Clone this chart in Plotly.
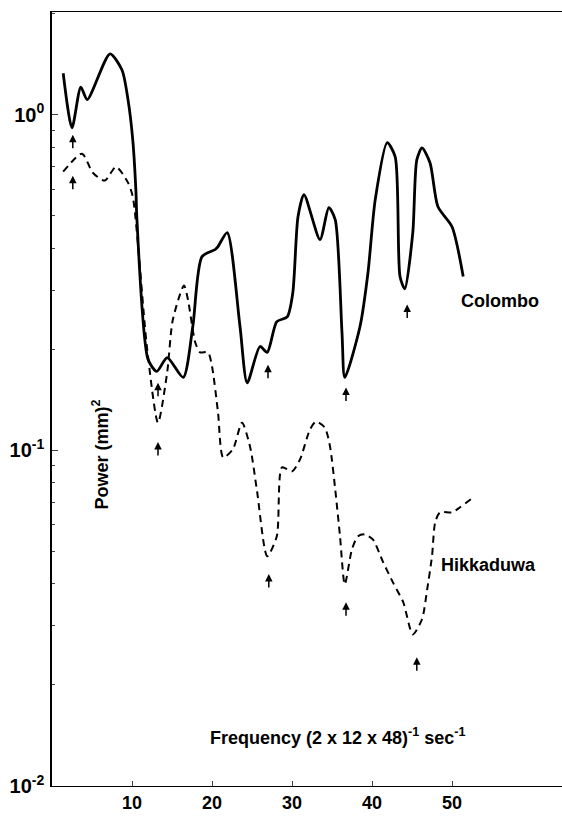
import math
import plotly.graph_objects as go

# Colombo (solid)
colombo_x = [1.4, 2.5, 3.6, 4.4, 7.25, 8.75, 9.5, 10.1, 10.5, 10.6, 12.0, 13.1, 14.4, 16.4, 17.6,
             18.75, 20.4, 20.75, 21.9, 23.5, 24.4, 26.0, 26.9, 28.1, 29.4, 30.1, 30.75, 31.5,
             33.5, 34.6, 35.4, 36.25, 36.6, 38.5, 39.5, 40.4, 41.9, 42.9, 43.5, 44.1, 45.1,
             45.6, 46.25, 47.25, 48.25, 50.0, 51.4]
colombo_y = [1.33, 0.915, 1.21, 1.11, 1.52, 1.36, 1.11, 0.84, 0.586, 0.497, 0.187, 0.172, 0.189,
             0.165, 0.234, 0.378, 0.397, 0.405, 0.446, 0.234, 0.159, 0.204, 0.196, 0.242, 0.25,
             0.295, 0.497, 0.578, 0.425, 0.529, 0.487, 0.224, 0.165, 0.234, 0.339, 0.558, 0.826,
             0.75, 0.33, 0.303, 0.446, 0.734, 0.797, 0.72, 0.532, 0.464, 0.33]

# Hikkaduwa (dashed)
hikk_x = [1.4, 3.75, 5.1, 6.6, 8.0, 9.5, 10.1, 11.9, 13.25, 14.4, 15.1, 16.5, 17.0, 17.9, 18.5,
          19.5, 20.0, 20.75, 21.4, 22.6, 23.75, 24.75, 25.6, 26.9, 28.1, 28.75, 30.0, 31.0, 32.25,
          33.0, 34.1, 34.75, 35.4, 36.0, 36.6, 37.5, 38.25, 39.1, 40.1, 41.4, 42.6, 43.9, 45.1,
          46.25, 46.9, 47.5, 47.9, 48.5, 50.0, 51.0, 52.5]
hikk_y = [0.677, 0.766, 0.672, 0.637, 0.70, 0.628, 0.570, 0.200, 0.121, 0.171, 0.245, 0.310, 0.281,
          0.21, 0.196, 0.196, 0.178, 0.130, 0.0953, 0.1007, 0.121, 0.1028, 0.0766, 0.0484, 0.0555,
          0.0890, 0.0866, 0.094, 0.1155, 0.122, 0.117, 0.1028, 0.0766, 0.0555, 0.0399, 0.0508,
          0.0555, 0.0562, 0.0543, 0.0464, 0.0405, 0.0353, 0.0283, 0.0314, 0.0386, 0.0484, 0.0611,
          0.0654, 0.0654, 0.0677, 0.072]

# Arrow markers at minima
colombo_arrow_x = [2.6, 13.25, 27.0, 36.75, 44.4]
colombo_arrow_y = [0.872, 0.159, 0.180, 0.154, 0.272]
hikk_arrow_x = [2.6, 13.25, 27.1, 36.75, 45.6]
hikk_arrow_y = [0.658, 0.106, 0.0428, 0.0353, 0.0242]

x_ticks = [10, 20, 30, 40, 50]
y_ticks = [0.01, 0.1, 1]
y_ticktext = ["<b>10<sup>-2</sup></b>", "<b>10<sup>-1</sup></b>", "<b>10<sup>0</sup></b>"]

FONT = "Liberation Sans, Arial, sans-serif"

W, H = 562, 818
L, R, T, B = 52, 0, 12, 32
pw, ph = W - L - R, H - T - B

fig = go.Figure()
fig.add_trace(go.Scatter(x=colombo_x, y=colombo_y, mode="lines",
                         line=dict(color="black", width=2.8, shape="spline", smoothing=0.7),
                         showlegend=False, hoverinfo="skip"))
fig.add_trace(go.Scatter(x=hikk_x, y=hikk_y, mode="lines",
                         line=dict(color="black", width=2, dash="7px,5px", shape="spline", smoothing=0.7),
                         showlegend=False, hoverinfo="skip"))

annotations = []
for ax_, ay_ in list(zip(colombo_arrow_x, colombo_arrow_y)) + list(zip(hikk_arrow_x, hikk_arrow_y)):
    annotations.append(dict(x=ax_, y=math.log10(ay_), xref="x", yref="y",
                            text="", showarrow=True, arrowhead=2, arrowsize=1, arrowwidth=1.5,
                            arrowcolor="black", ax=0, ay=15))


def px(xp, yp):
    return (xp - L) / pw, (H - B - yp) / ph


annotations += [
    dict(x=56, y=math.log10(0.278), xref="x", yref="y", text="<b>Colombo</b>",
         showarrow=False, font=dict(family=FONT, size=18, color="black")),
    dict(x=54.5, y=math.log10(0.0455), xref="x", yref="y", text="<b>Hikkaduwa</b>",
         showarrow=False, font=dict(family=FONT, size=18, color="black")),
]
xa, ya = px(87, 455)
annotations.append(dict(x=xa, y=ya, xref="paper", yref="paper", text="<b>Power (mm)<sup>2</sup></b>",
                        showarrow=False, textangle=-90, font=dict(family=FONT, size=18, color="black")))
xa, ya = px(338, 750)
annotations.append(dict(x=xa, y=ya, xref="paper", yref="paper",
                        text="<b>Frequency (2 x 12 x 48)<sup>-1</sup> sec<sup>-1</sup></b>",
                        showarrow=False, font=dict(family=FONT, size=18, color="black")))

minor_vals = [m * 10 ** e for e in (-2, -1, 0) for m in range(2, 10) if m * 10 ** e < 2.1]

fig.update_layout(
    width=W, height=H,
    margin=dict(l=L, r=R, t=T, b=B, autoexpand=False),
    paper_bgcolor="white", plot_bgcolor="white",
    font=dict(family=FONT, color="black"),
    annotations=annotations,
    xaxis=dict(range=[0, 63.75], showgrid=False, zeroline=False, showline=True, linecolor="black",
               linewidth=1.2, mirror=True, ticks="inside", ticklen=5, tickwidth=1.2,
               tickvals=x_ticks, ticktext=[f"<b>{v}</b>" for v in x_ticks], automargin=False,
               tickfont=dict(family=FONT, size=18, color="black")),
    yaxis=dict(type="log", range=[-2, 0.3065], showgrid=False, zeroline=False, showline=True,
               linecolor="black", linewidth=1.5, mirror=False, ticks="inside", ticklen=6,
               tickwidth=1.2, tickvals=y_ticks, ticktext=y_ticktext, automargin=False,
               ticklabelstandoff=2,
               tickfont=dict(family=FONT, size=20, color="black"),
               minor=dict(ticks="inside", ticklen=3, tickwidth=1, tickvals=minor_vals, showgrid=False)),
)

# remove the browser's default 8px body margin so the figure fills the window exactly
fig.write_html("out.html", config={"displayModeBar": False},
               post_script="document.body.style.margin='0';document.body.style.overflow='hidden';")
